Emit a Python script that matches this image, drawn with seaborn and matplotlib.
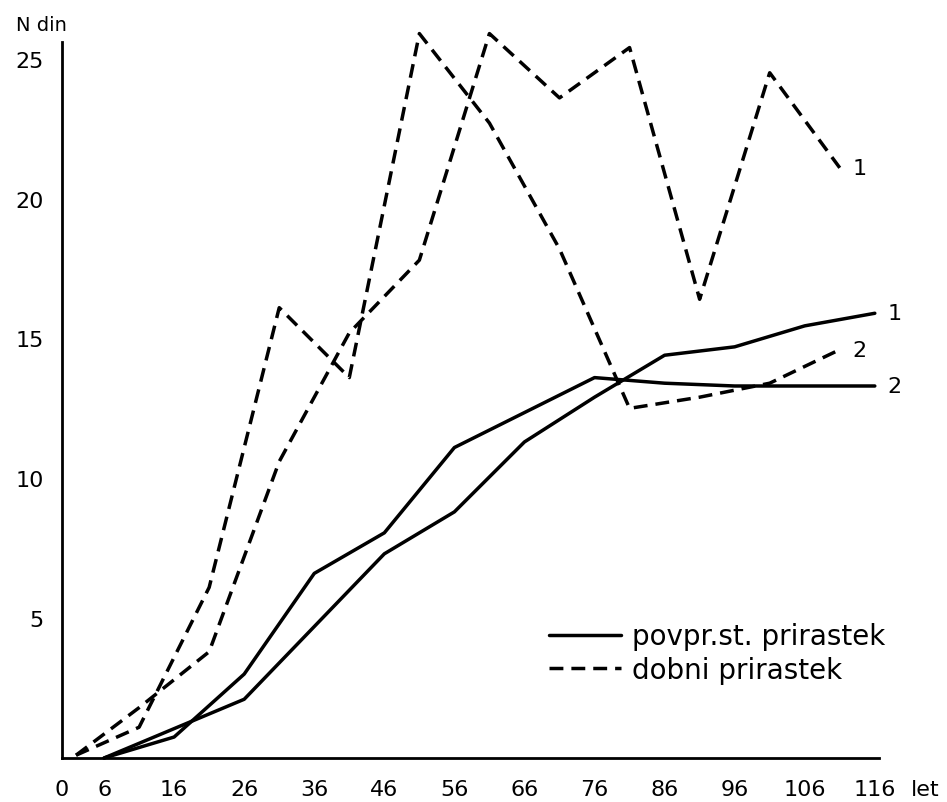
import matplotlib
matplotlib.use("Agg")
import matplotlib.pyplot as plt
from matplotlib.lines import Line2D
import seaborn as sns
import pandas as pd

# ---- data ----
ages_solid = [6, 16, 26, 36, 46, 56, 66, 76, 86, 96, 106, 116]
povpr_1 = [0.0, 1.05, 2.1, 4.7, 7.3, 8.8, 11.3, 12.9, 14.4, 14.7, 15.45, 15.9]
povpr_2 = [0.0, 0.75, 3.0, 6.6, 8.05, 11.1, 12.35, 13.6, 13.4, 13.3, 13.3, 13.3]

ages_dobni = [2, 11, 21, 31, 41, 51, 61, 71, 81, 91, 101, 111]
dobni_1 = [0.1, 1.8, 3.8, 10.6, 15.2, 17.8, 25.9, 23.6, 25.4, 16.4, 24.5, 21.1]
dobni_2 = [0.1, 1.1, 6.1, 16.1, 13.6, 25.9, 22.7, 18.2, 12.5, 12.9, 13.4, 14.6]

x_ticks = [0, 6, 16, 26, 36, 46, 56, 66, 76, 86, 96, 106, 116]
y_ticks = [5, 10, 15, 20, 25]
legend_labels = ["povpr.st. prirastek", "dobni prirastek"]
end_labels = {"p1": "1", "p2": "2", "d1": "1", "d2": "2"}

rows = []
for key, ages, vals, kind in [("p1", ages_solid, povpr_1, "povpr"),
                              ("p2", ages_solid, povpr_2, "povpr"),
                              ("d1", ages_dobni, dobni_1, "dobni"),
                              ("d2", ages_dobni, dobni_2, "dobni")]:
    for a, v in zip(ages, vals):
        rows.append({"series": key, "kind": kind, "age": a, "val": v})
df = pd.DataFrame(rows)

sns.set_theme(style="white")
plt.rcParams["font.family"] = ["DejaVu Sans"]
plt.rcParams["text.color"] = "black"

fig = plt.figure(figsize=(9.47, 8.03), dpi=100)
ax = fig.add_axes([0.0655, 0.0548, 0.8627, 0.8917])

sns.lineplot(data=df, x="age", y="val", hue="series", style="kind",
             palette={"p1": "black", "p2": "black", "d1": "black", "d2": "black"},
             dashes={"povpr": "", "dobni": (4, 2.3)},
             linewidth=2.5, legend=False, ax=ax, sort=False)
for ln in ax.get_lines():
    ln.set_clip_on(False)

# end labels
last = df.groupby("series").tail(1).set_index("series")
for key, lab in end_labels.items():
    ax.annotate(lab, (last.loc[key, "age"], last.loc[key, "val"]),
                xytext=(9, 0), textcoords="offset points",
                ha="left", va="center", fontsize=16, color="black")

ax.set_xlim(0, 116.6)
ax.set_ylim(0, 25.6)
ax.set_xticks(x_ticks)
ax.set_xticklabels([str(t) for t in x_ticks])
ax.set_yticks(y_ticks)
ax.set_yticklabels([str(t) for t in y_ticks])
ax.tick_params(axis="both", direction="out", length=5, width=1.5,
               labelsize=16, colors="black", pad=8)
ax.tick_params(axis="x", pad=10)
for s in ["top", "right"]:
    ax.spines[s].set_visible(False)
for s in ["left", "bottom"]:
    ax.spines[s].set_color("black")
    ax.spines[s].set_linewidth(2)
ax.set_xlabel("")
ax.set_ylabel("")

handles = [Line2D([], [], color="black", lw=2.5, linestyle="-"),
           Line2D([], [], color="black", lw=2.5, linestyle=(0, (4, 2.3)))]
ax.legend(handles, legend_labels, loc="upper left", frameon=False,
          fontsize=20, handlelength=2.6, handletextpad=0.4,
          bbox_to_anchor=(0.582, 0.205), labelspacing=0.2, labelcolor="black",
          borderaxespad=0)

fig.text(0.017, 0.968, "N din", fontsize=14, ha="left", va="center")
fig.text(0.962, 0.016, "let", fontsize=16, ha="left", va="center")

fig.savefig("out.png", dpi=100, facecolor="white")
